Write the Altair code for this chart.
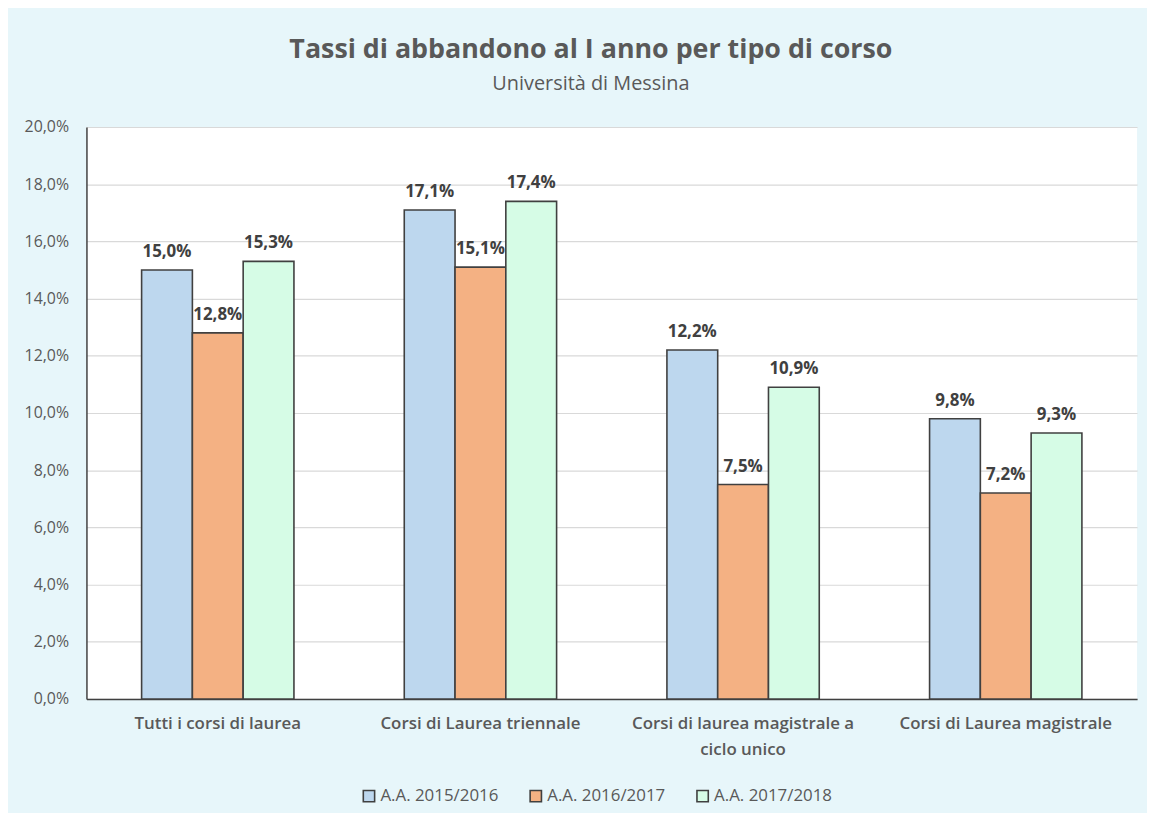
import altair as alt
import pandas as pd

categories = [
    "Tutti i corsi di laurea",
    "Corsi di Laurea triennale",
    "Corsi di laurea magistrale a ciclo unico",
    "Corsi di Laurea magistrale",
]
series = ["A.A. 2015/2016", "A.A. 2016/2017", "A.A. 2017/2018"]
values_2015 = [0.150, 0.171, 0.122, 0.098]
values_2016 = [0.128, 0.151, 0.075, 0.072]
values_2017 = [0.153, 0.174, 0.109, 0.093]
colors = ["#BDD7EE", "#F4B183", "#D6FCE6"]

rows = []
for s, vals in zip(series, [values_2015, values_2016, values_2017]):
    for c, v in zip(categories, vals):
        rows.append({"corso": c, "anno": s, "tasso": v})
df = pd.DataFrame(rows)

x_enc = alt.X(
    "corso:N",
    sort=categories,
    scale=alt.Scale(paddingInner=0.42, paddingOuter=0.21),
    axis=alt.Axis(
        title=None,
        labelAngle=0,
        labelPadding=17,
        labelFontSize=17,
        labelFont="Open Sans",
        labelFontWeight=600,
        labelColor="#595959",
        labelLineHeight=26,
        labelBaseline="top",
        labelLimit=400,
        ticks=False,
        domainColor="#404040",
        domainWidth=1.5,
        labelExpr="datum.value == 'Corsi di laurea magistrale a ciclo unico' ? ['Corsi di laurea magistrale a', 'ciclo unico'] : datum.label",
    ),
)
xoff = alt.XOffset("anno:N", sort=series, scale=alt.Scale(paddingInner=0, paddingOuter=0))

y_enc = alt.Y(
    "tasso:Q",
    scale=alt.Scale(domain=[0, 0.2], nice=False),
    axis=alt.Axis(
        title=None,
        values=[i / 50 for i in range(11)],
        labelExpr="replace(format(datum.value, '.1%'), '.', ',')",
        labelFontSize=16,
        labelFont="Open Sans",
        labelColor="#595959",
        labelPadding=18,
        ticks=False,
        domainColor="#404040",
        domainWidth=1.5,
        gridColor="#D9D9D9",
        gridWidth=1.2,
    ),
)

base = alt.Chart(df)

bars = base.mark_bar(stroke="#404040", strokeWidth=1.6).encode(
    x=x_enc,
    xOffset=xoff,
    y=y_enc,
    fill=alt.Fill(
        "anno:N",
        sort=series,
        scale=alt.Scale(domain=series, range=colors),
        legend=alt.Legend(
            title=None,
            orient="none",
            legendX=276,
            legendY=665,
            direction="horizontal",
            symbolType="square",
            symbolSize=130,
            symbolStrokeColor="#404040",
            symbolStrokeWidth=1.6,
            labelFontSize=17,
            labelFont="Open Sans",
            labelColor="#595959",
            columnPadding=28,
            labelOffset=3,
        ),
    ),
)

labels = base.transform_calculate(
    lbl="replace(format(datum.tasso, '.1%'), '.', ',')"
).mark_text(
    baseline="alphabetic",
    dy=-13,
    fontSize=17,
    fontWeight="bold",
    font="Open Sans",
    color="#404040",
).encode(
    x=alt.X("corso:N", sort=categories),
    xOffset=xoff,
    y=alt.Y("tasso:Q"),
    text="lbl:N",
)

chart = (
    alt.layer(bars, labels)
    .properties(
        width=1058,
        height=576,
        title=alt.TitleParams(
            text="Tassi di abbandono al I anno per tipo di corso",
            subtitle="Università di Messina",
            fontSize=27,
            font="Open Sans",
            fontWeight="bold",
            color="#595959",
            subtitleFont="Open Sans",
            subtitleFontSize=20,
            subtitleColor="#595959",
            subtitlePadding=10,
            anchor="middle",
            dx=-21,
            offset=24,
        ),
        autosize=alt.AutoSizeParams(type="none"),
        padding={"left": 79, "top": 117, "right": 10, "bottom": 112},
    )
    .configure(background="#E7F6FA")
    .configure_view(fill="white", stroke=None)
)

chart.save("out.html", embed_options={"renderer": "svg", "actions": False})
